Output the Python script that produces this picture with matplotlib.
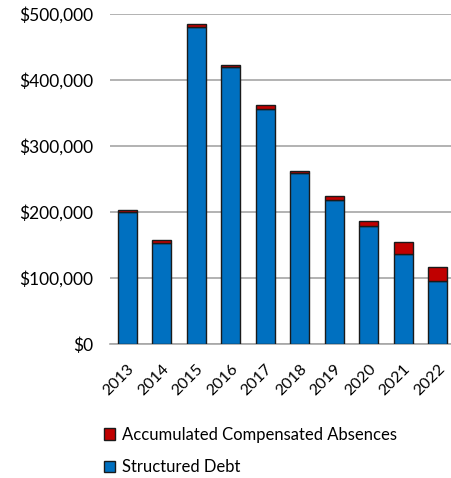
import matplotlib.pyplot as plt
from matplotlib.ticker import FuncFormatter
import numpy as np

years = ['2013', '2014', '2015', '2016', '2017', '2018', '2019', '2020', '2021', '2022']
structured_debt = [200000, 153500, 480800, 419000, 355600, 258600, 218000, 178800, 135900, 95400]
comp_absences = [3000, 3500, 3800, 3600, 6200, 3000, 6000, 7200, 18800, 20800]

plt.rcParams['font.family'] = ['Lato', 'DejaVu Sans']

fig = plt.figure(figsize=(4.51, 4.78), dpi=100)
# axes runs a bit past the right edge, like the reference
ax = fig.add_axes([110 / 451, 134 / 478, 345 / 451, 330 / 478])

x = np.arange(len(years))
ax.bar(x, structured_debt, width=0.55, color='#0070C0', edgecolor='#1a1a1a', linewidth=1,
       label='Structured Debt', zorder=3)
ax.bar(x, comp_absences, width=0.55, bottom=structured_debt, color='#C00000',
       edgecolor='#1a1a1a', linewidth=1, label='Accumulated Compensated Absences', zorder=3)

ax.set_xlim(-0.5, len(years) - 0.5)
ax.set_ylim(0, 500000)
ax.set_yticks(np.arange(0, 500001, 100000))
ax.yaxis.set_major_formatter(FuncFormatter(lambda v, p: f"${v:,.0f}"))
ax.grid(axis='y', color='#A6A6A6', linewidth=1.2, zorder=0)
ax.set_axisbelow(True)

for s in ['top', 'right', 'left']:
    ax.spines[s].set_visible(False)
ax.spines['bottom'].set_color('#A6A6A6')
ax.spines['bottom'].set_linewidth(1.2)

ax.set_xticks(x)
ax.set_xticklabels(years)
ax.tick_params(axis='both', length=0, colors='black')
ax.tick_params(axis='y', pad=12, labelsize=12.5)
ax.tick_params(axis='x', pad=13, labelsize=11.5)
plt.setp(ax.get_xticklabels(), rotation=45, ha='right', rotation_mode='anchor')

handles, labels = ax.get_legend_handles_labels()
fig.legend(handles[::-1], labels[::-1], loc='upper left', bbox_to_anchor=(97 / 451, 1 - 420 / 478),
           frameon=False, fontsize=12, handlelength=0.7, handleheight=0.7,
           handletextpad=0.4, labelspacing=1.0, borderaxespad=0)

fig.savefig('out.png', dpi=100)
